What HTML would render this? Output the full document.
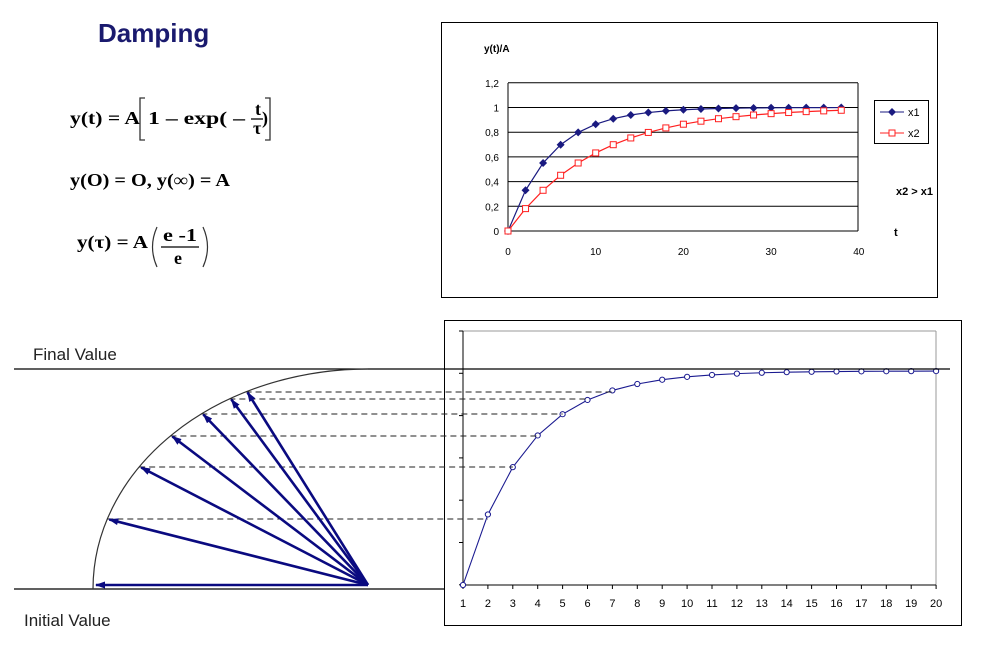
<!DOCTYPE html><html><head><meta charset="utf-8"><style>
body{margin:0;background:#fff;width:989px;height:647px;overflow:hidden;font-family:"Liberation Sans",sans-serif}
svg{position:absolute;left:0;top:0}
.f{font-family:"Liberation Serif",serif;font-weight:bold;font-size:18px}
</style></head><body>
<svg id="s" width="989" height="647" xmlns="http://www.w3.org/2000/svg">
<text x="98" y="42" font-size="26" font-weight="bold" fill="#1a1a6e">Damping</text>
<text class="f" x="70" y="124" textLength="70" lengthAdjust="spacingAndGlyphs">y(t) = A</text>
<path d="M145 98 h-5 v42 h5 M265 98 h5 v42 h-5" stroke="#333" fill="none" stroke-width="1.3"/>
<text class="f" x="148" y="124" textLength="97" lengthAdjust="spacingAndGlyphs">1 – exp( –</text>
<text class="f" x="255" y="115" font-size="15">t</text>
<line x1="251" y1="119" x2="263" y2="119" stroke="#000" stroke-width="1.3"/>
<text class="f" x="253" y="134" font-size="15">τ</text>
<text class="f" x="262" y="124">)</text>
<text class="f" x="70" y="186" textLength="160" lengthAdjust="spacingAndGlyphs">y(O) = O, y(∞) = A</text>
<text class="f" x="77" y="248" textLength="71" lengthAdjust="spacingAndGlyphs">y(τ) = A</text>
<path d="M157 227 q-9 20 0 40 M203 227 q9 20 0 40" stroke="#333" fill="none" stroke-width="1.2"/>
<text class="f" x="163" y="241" font-size="16" textLength="34" lengthAdjust="spacingAndGlyphs">e -1</text>
<line x1="161" y1="247" x2="199" y2="247" stroke="#000" stroke-width="1.3"/>
<text class="f" x="174" y="264" font-size="16">e</text>
<rect x="441.5" y="22.5" width="496" height="275" fill="none" stroke="#000"/>
<rect x="444.5" y="320.5" width="517" height="305" fill="none" stroke="#000"/>
<g id="top"></g><g id="bot"></g>
<text x="33" y="360" font-size="17" fill="#222">Final Value</text>
<text x="24" y="626" font-size="17" fill="#222">Initial Value</text>
</svg>
<script>
var h="";
var X=function(t){return 508+t*8.77},Y=function(v){return 231-v*123.5};
for(var i=0;i<=6;i++){var y=Y(i*0.2);h+='<line x1="508" x2="858" y1="'+y+'" y2="'+y+'" stroke="#000" stroke-width="1"/>';
h+='<text x="499" y="'+(y+4)+'" font-size="10" text-anchor="end">'+["0","0,2","0,4","0,6","0,8","1","1,2"][i]+'</text>';}
h+='<line x1="508" x2="508" y1="83" y2="231" stroke="#000"/><line x1="858" x2="858" y1="83" y2="231" stroke="#000"/>';
for(var i=0;i<=4;i++){h+='<text x="'+X(i*10)+'" y="255" font-size="10" text-anchor="middle">'+i*10+'</text>';}
h+='<text x="484" y="52" font-size="10" font-weight="bold">y(t)/A</text><text x="894" y="236" font-size="11" font-weight="bold">t</text><text x="896" y="195" font-size="11" font-weight="bold">x2 &gt; x1</text>';
[[5,"#1a1a80",1],[10,"#ff2020",0]].forEach(function(s){var p="",m="";for(var t=0;t<=38;t+=2){var x=X(t),y=Y(1-Math.exp(-t/s[0]));p+=(t?"L":"M")+x+" "+y;
m+=s[2]?'<path d="M'+x+' '+(y-4)+'l4 4-4 4-4-4z" fill="'+s[1]+'"/>':'<rect x="'+(x-3)+'" y="'+(y-3)+'" width="6" height="6" fill="#fff" stroke="'+s[1]+'"/>';}
h+='<path d="'+p+'" fill="none" stroke="'+s[1]+'" stroke-width="1.2"/>'+m;});
h+='<rect x="874.5" y="100.5" width="54" height="43" fill="#fff" stroke="#000"/><line x1="880" x2="904" y1="112" y2="112" stroke="#1a1a80"/><path d="M892 108l4 4-4 4-4-4z" fill="#1a1a80"/><text x="908" y="116" font-size="11">x1</text>';
h+='<line x1="880" x2="904" y1="133" y2="133" stroke="#f22"/><rect x="889" y="130" width="6" height="6" fill="#fff" stroke="#f22"/><text x="908" y="137" font-size="11">x2</text>';
document.getElementById("top").innerHTML=h;
h="";var BX=function(n){return 463+(n-1)*24.9},BY=function(n){return 585-214*(1-Math.exp(-(n-1)/2.5))};
h+='<line x1="463" y1="331" x2="936" y2="331" stroke="#999"/><line x1="936" y1="331" x2="936" y2="585" stroke="#999"/>';
h+='<line x1="463" y1="331" x2="463" y2="585" stroke="#000"/><line x1="463" y1="585" x2="936" y2="585" stroke="#000"/>';
for(var k=0;k<=6;k++){var y=331+k*42.3;h+='<line x1="459" x2="463" y1="'+y+'" y2="'+y+'" stroke="#000"/>';}
var p="",m="";for(var n=1;n<=20;n++){var x=BX(n),y=BY(n);p+=(n>1?"L":"M")+x+" "+y;m+='<circle cx="'+x+'" cy="'+y+'" r="2.6" fill="#fff" stroke="#1a1a90"/>';
h+='<line x1="'+x+'" x2="'+x+'" y1="585" y2="589" stroke="#000"/><text x="'+x+'" y="607" font-size="11" text-anchor="middle">'+n+'</text>';}
h+='<path d="'+p+'" fill="none" stroke="#1a1a90" stroke-width="1.1"/>'+m;
h+='<line x1="14" x2="950" y1="369" y2="369" stroke="#000" stroke-width="1.2"/><line x1="14" x2="444" y1="589" y2="589" stroke="#000" stroke-width="1.2"/>';
h+='<path d="M93 589 A275 220 0 0 1 368 369" fill="none" stroke="#333" stroke-width="1.2"/>';
h+='<defs><marker id="a" markerUnits="userSpaceOnUse" markerWidth="10" markerHeight="8" refX="9" refY="4" orient="auto"><path d="M0 0.5L10 4L0 7.5z" fill="#0a0a80"/></marker></defs>';
var ox=368,oy=585;
[519,467,436,414,399,392].forEach(function(y,i){var dy=(589-y)/220,x=368-275*Math.sqrt(1-dy*dy);
h+='<line x1="'+x+'" x2="'+BX(i+2)+'" y1="'+y+'" y2="'+y+'" stroke="#222" stroke-dasharray="6,4"/>';
h+='<line x1="'+ox+'" y1="'+oy+'" x2="'+(x+2)+'" y2="'+(y+0.5)+'" stroke="#0a0a80" stroke-width="2.6" marker-end="url(#a)"/>';});
h+='<line x1="'+ox+'" y1="'+oy+'" x2="96" y2="585" stroke="#0a0a80" stroke-width="2.6" marker-end="url(#a)"/>';
document.getElementById("bot").innerHTML=h;
</script>
</body></html>
